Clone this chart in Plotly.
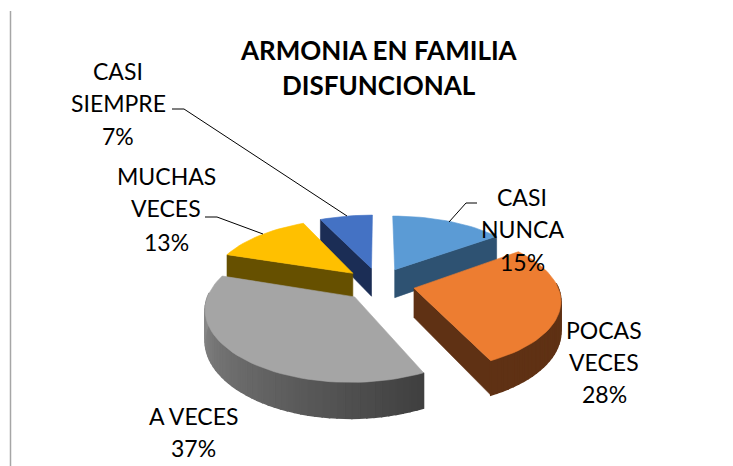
import numpy as np
import plotly.graph_objects as go

categories = ["CASI NUNCA", "POCAS VECES", "A VECES", "MUCHAS VECES", "CASI SIEMPRE"]
values = [15, 28, 37, 13, 7]
label_lines = [["CASI", "NUNCA"], ["POCAS", "VECES"], ["A VECES"], ["MUCHAS", "VECES"], ["CASI", "SIEMPRE"]]
top_colors = ["#5B9BD5", "#ED7D31", "#A5A5A5", "#FFC000", "#4472C4"]
side_colors = ["#2E5272", "#5F3114", "#4A4A4A", "#665000", "#1B2D55"]
wall_start = ["#2E5272", "#5F3114", "#404040", "#665000", "#1B2D55"]
wall_end = ["#2E5272", "#5F3114", "#949494", "#665000", "#1B2D55"]
title_lines = ["ARMONIA EN FAMILIA", "DISFUNCIONAL"]

CX, CY, RX, RY, KX, KY, DEPTH, PULL = 379, 284, 143, 66.7, 0.15, 0.164, 29, 0.25
DRAW_ORDER = [4, 0, 3, 1, 2]
LABEL_POS = {0: (522, [197, 229, 262]), 1: (604, [330, 362, 394]), 2: (193, [416, 448]),
             3: (166, [176, 208, 242]), 4: (118, [71, 103, 136])}
LEADERS = [([477, 466, 449], [203, 203, 222]), ([205, 217, 263], [217, 217, 234]), ([172, 184, 347], [109, 109, 216])]


def project(wx, wy, drop=0.0):
    w = 1 + KY * wy
    return CX + RX * wx / (1 + KX * wy), CY - RY * wy / w + drop * DEPTH / w


def hex2rgb(c):
    return np.array([int(c[i:i + 2], 16) for i in (1, 3, 5)], float)


def poly(fig, xs, ys, color, lw=0.6):
    fig.add_trace(go.Scatter(x=list(xs) + [xs[0]], y=list(ys) + [ys[0]], mode="lines", fill="toself",
                             fillcolor=color, line=dict(color=color, width=lw), hoverinfo="skip", showlegend=False))


fig = go.Figure()
total = sum(values)
edges = np.concatenate([[0], np.cumsum(values)]) / total * 2 * np.pi

for i in DRAW_ORDER:
    a0, a1 = edges[i], edges[i + 1]
    mid = (a0 + a1) / 2
    ox, oy = PULL * np.sin(mid), PULL * np.cos(mid)
    th = np.linspace(a0, a1, max(8, int(values[i] * 1.5)))
    wx, wy = ox + np.sin(th), oy + np.cos(th)

    # radial cut faces
    for ang, idx in ((a0, 0), (a1, -1)):
        visible = np.sin(ang) < 0 if idx == 0 else np.sin(ang) > 0
        if visible:
            p0 = project(ox, oy); p1 = project(wx[idx], wy[idx])
            q1 = project(wx[idx], wy[idx], 1); q0 = project(ox, oy, 1)
            poly(fig, [p0[0], p1[0], q1[0], q0[0]], [p0[1], p1[1], q1[1], q0[1]], side_colors[i])

    # outer wall, shaded along the arc
    c0, c1 = hex2rgb(wall_start[i]), hex2rgb(wall_end[i])
    for j in range(len(th) - 1):
        if np.cos((th[j] + th[j + 1]) / 2) < 0.05:
            t = j / max(1, len(th) - 2)
            r, g, b = (c0 + (c1 - c0) * t).astype(int)
            col = f"rgb({r},{g},{b})"
            p0 = project(wx[j], wy[j]); p1 = project(wx[j + 1], wy[j + 1])
            q1 = project(wx[j + 1], wy[j + 1], 1); q0 = project(wx[j], wy[j], 1)
            poly(fig, [p0[0], p1[0], q1[0], q0[0]], [p0[1], p1[1], q1[1], q0[1]], col, lw=1.5)

    # top face
    tx, ty = project(np.concatenate([[ox], wx]), np.concatenate([[oy], wy]))
    poly(fig, list(tx), list(ty), top_colors[i])

for lx, ly in LEADERS:
    fig.add_trace(go.Scatter(x=lx, y=ly, mode="lines", line=dict(color="#000000", width=1),
                             hoverinfo="skip", showlegend=False))

fig.add_trace(go.Scatter(x=[10.5, 10.5], y=[11, 466], mode="lines", line=dict(color="#A6A6A6", width=1.5),
                         hoverinfo="skip", showlegend=False))

FONT = "Lato, Carlito, Calibri, sans-serif"
for i, lines in enumerate(label_lines):
    cx, ys = LABEL_POS[i]
    for text, y in zip(lines + [f"{values[i]}%"], ys):
        fig.add_annotation(x=cx, y=y, text=text, showarrow=False, xanchor="center", yanchor="middle",
                           font=dict(family=FONT, size=23, color="#000000"))
for text, y in zip(title_lines, [50, 85]):
    fig.add_annotation(x=379, y=y, text=f"<b>{text}</b>", showarrow=False, xanchor="center", yanchor="middle",
                       font=dict(family=FONT, size=26, color="#000000"))

fig.update_layout(width=733, height=466, autosize=False, margin=dict(l=0, r=0, t=0, b=0),
                  paper_bgcolor="white", plot_bgcolor="white", showlegend=False,
                  xaxis=dict(range=[0, 733], visible=False, fixedrange=True),
                  yaxis=dict(range=[466, 0], visible=False, fixedrange=True))
fig.write_html("out.html", config={"displayModeBar": False},
               post_script="document.body.style.margin='0';document.documentElement.style.overflow='hidden';")
